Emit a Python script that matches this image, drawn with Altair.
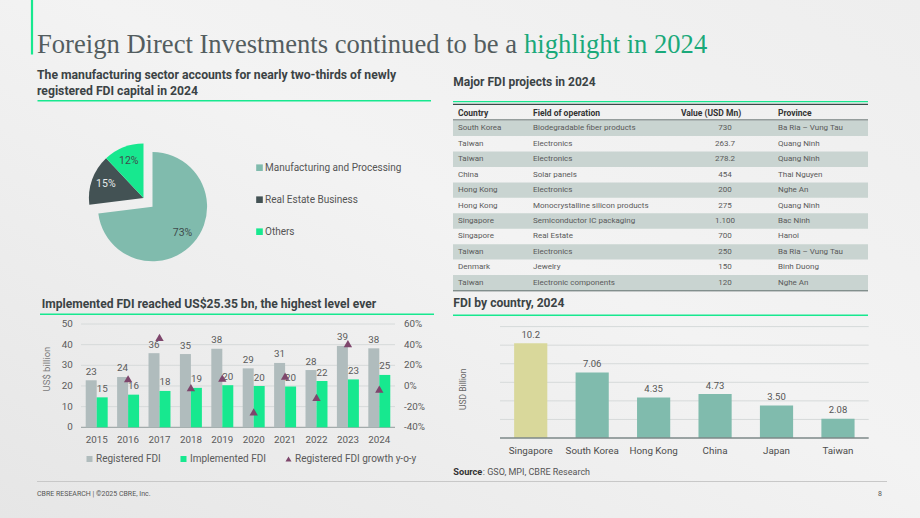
import math
import altair as alt
import pandas as pd

SANS = "Roboto"
SERIF = "Liberation Serif"

# ---------------- data ----------------
pie_sectors = ["Manufacturing and Processing", "Real Estate Business", "Others"]
pie_shares = [73, 15, 12]

tbl_country = ["South Korea", "Taiwan", "Taiwan", "China", "Hong Kong", "Hong Kong",
               "Singapore", "Singapore", "Taiwan", "Denmark", "Taiwan"]
tbl_field = ["Biodegradable fiber products", "Electronics", "Electronics", "Solar panels",
             "Electronics", "Monocrystalline silicon products", "Semiconductor IC packaging",
             "Real Estate", "Electronics", "Jewelry", "Electronic components"]
tbl_value = ["730", "263.7", "278.2", "454", "200", "275", "1.100", "700", "250", "150", "120"]
tbl_province = ["Ba Ria – Vung Tau", "Quang Ninh", "Quang Ninh", "Thai Nguyen", "Nghe An",
                "Quang Ninh", "Bac Ninh", "Hanoi", "Ba Ria – Vung Tau", "Binh Duong", "Nghe An"]

years = ["2015", "2016", "2017", "2018", "2019", "2020", "2021", "2022", "2023", "2024"]
registered = [22.76, 24.37, 35.88, 35.46, 38.02, 28.53, 31.15, 27.72, 39.39, 38.23]
implemented = [14.5, 15.8, 17.6, 19.1, 20.38, 19.98, 19.74, 22.4, 23.18, 25.35]
growth = [None, 7, 47, -1.5, 7.5, -25, 9.5, -11, 41, -3]
left_ticks = [0, 10, 20, 30, 40, 50]
right_ticks = [-40, -20, 0, 20, 40, 60]
right_tick_labels = ["-40%", "-20%", "0%", "20%", "40%", "60%"]
series_all = ["Registered FDI", "Implemented FDI", "Registered FDI growth y-o-y"]

countries = ["Singapore", "South Korea", "Hong Kong", "China", "Japan", "Taiwan"]
country_fdi = [10.2, 7.06, 4.35, 4.73, 3.50, 2.08]
country_labels = ["10.2", "7.06", "4.35", "4.73", "3.50", "2.08"]
country_grid = [2, 4, 6, 8, 10, 12]

# ---------------- colours ----------------
CELADON = "#80bbad"
DARK = "#435254"
ACCENT = "#17e88f"
GREYBAR = "#b0bcbd"
PURPLE = "#7e466c"
OLIVE = "#d9d89b"
TITLE_GREY = "#535d5f"
TITLE_GREEN = "#1aa97a"
HEAD = "#3b4345"
TXT = "#555555"
GRID = "#d6dada"
ROWFILL = "#c9d4d1"


def one(t=""):
    return pd.DataFrame({"t": [t]})


def text(s, x, y, size=10, color=TXT, weight="normal", font=SANS, align="left",
         baseline="middle", angle=0):
    kw = dict(x=x, y=y, fontSize=size, color=color, fontWeight=weight, font=font,
              align=align, baseline=baseline)
    if angle:
        kw["angle"] = angle
    return alt.Chart(one(s)).mark_text(**kw).encode(text="t:N")


def hline(x1, x2, y, color, w=1.0):
    return alt.Chart(one()).mark_rule(color=color, strokeWidth=w).encode(
        x=alt.value(x1), x2=alt.value(x2), y=alt.value(y))


def vline(x, y1, y2, color, w=1.0):
    return alt.Chart(one()).mark_rule(color=color, strokeWidth=w).encode(
        x=alt.value(x), y=alt.value(y1), y2=alt.value(y2))


# ---------------- background ----------------
bg = alt.Chart(one()).mark_rect(
    fill=alt.Gradient(
        gradient="linear",
        stops=[alt.GradientStop(color="#e6e6e6", offset=0),
               alt.GradientStop(color="#f3f3f3", offset=0.55),
               alt.GradientStop(color="#eeeeee", offset=1)],
        x1=0, y1=1, x2=1, y2=0)
).encode(x=alt.value(0), x2=alt.value(920), y=alt.value(0), y2=alt.value(518))

# ---------------- headings ----------------
heads = [
    vline(32, 0, 54.5, ACCENT, 2.2),
    text("Foreign Direct Investments continued to be a", 37, 52.7, 26.6, TITLE_GREY,
         font=SERIF, baseline="alphabetic"),
    text("highlight in 2024", 524, 52.7, 26.6, TITLE_GREEN, font=SERIF, baseline="alphabetic"),
    text("The manufacturing sector accounts for nearly two-thirds of newly", 37, 75.3, 12.2,
         HEAD, "bold"),
    text("registered FDI capital in 2024", 37, 90.9, 12.2, HEAD, "bold"),
    hline(37.5, 431, 100.7, ACCENT, 1.5),
    text("Major FDI projects in 2024", 453.3, 82.3, 12, HEAD, "bold"),
    hline(453, 868, 101.7, ACCENT, 1.3),
    hline(453, 868, 104.3, "#3a4a48", 1.2),
    hline(453, 868, 120, "#3a4a48", 1.2),
    text("Country", 458, 113.3, 8.5, "#333333", "bold"),
    text("Field of operation", 533, 113.3, 8.5, "#333333", "bold"),
    text("Value (USD Mn)", 711, 113.3, 8.5, "#333333", "bold", align="center"),
    text("Province", 778, 113.3, 8.5, "#333333", "bold"),
    hline(453, 868, 290.6, "#3a4a48", 1.5),
    text("Implemented FDI reached US$25.35 bn, the highest level ever", 41.7, 304, 12.1,
         HEAD, "bold"),
    hline(40, 434, 314.3, ACCENT, 1.5),
    text("US$ billion", 46.5, 369, 9.5, "#7a7a7a", align="center", angle=270),
    text("FDI by country, 2024", 453.3, 303.3, 12.1, HEAD, "bold"),
    hline(453, 868, 315.3, ACCENT, 1.5),
    text("USD Billion", 462.7, 389.3, 8.5, "#666666", align="center", angle=270),
    text("Source", 453.3, 471.7, 9.2, "#333333", "bold"),
    text(": GSO, MPI, CBRE Research", 482.8, 471.7, 9, "#555555"),
    hline(37, 887, 481.5, "#c8c8c8", 1),
    text("CBRE RESEARCH | ©2025 CBRE, Inc.", 37, 494, 7, "#555555"),
    text("8", 878, 494, 7, "#555555"),
]

# ---------------- pie ----------------
pie_df = pd.DataFrame({"sector": pie_sectors, "share": pie_shares})
pie_df["end"] = pie_df["share"].cumsum()
pie_df["start"] = pie_df["end"] - pie_df["share"]
pie_df["mid"] = (pie_df["start"] + pie_df["end"]) / 2
pie_df["label"] = pie_df["share"].astype(str) + "%"

theta_sc = alt.Scale(domain=[0, 100], range=[0, 2 * math.pi])
pie_color = alt.Color(
    "sector:N",
    scale=alt.Scale(domain=pie_sectors, range=[CELADON, DARK, ACCENT]),
    legend=alt.Legend(orient="none", legendX=254.5, legendY=162.7, title=None,
                      symbolType="square", symbolSize=44, symbolStrokeWidth=0,
                      labelFont=SANS, labelFontSize=10, labelColor=TXT,
                      rowPadding=22, labelOffset=0.5, padding=0))


def pie_part(cond, cx, cy):
    base = alt.Chart(pie_df).transform_filter(cond)
    arc = base.mark_arc(radius=54.6).encode(
        theta=alt.Theta("start:Q", scale=theta_sc, stack=False),
        theta2="end:Q",
        color=pie_color,
        x=alt.value(cx), y=alt.value(cy))
    lab = base.mark_text(radius=40, font=SANS, fontSize=10.5).encode(
        theta=alt.Theta("mid:Q", scale=theta_sc, stack=False),
        text="label:N",
        x=alt.value(cx), y=alt.value(cy),
        color=alt.condition(alt.datum.sector == pie_sectors[1],
                            alt.value("#e6eaea"), alt.value("#3f4b4c")))
    return alt.layer(arc, lab)


pie = alt.layer(
    pie_part(alt.datum.sector == pie_sectors[0], 152.5, 206.7),
    pie_part(alt.datum.sector != pie_sectors[0], 143.5, 198.0),
)

# ---------------- table ----------------
tbl_df = pd.DataFrame({"row": list(range(len(tbl_country))), "country": tbl_country,
                       "field": tbl_field, "value": tbl_value, "province": tbl_province})
row_sc = alt.Scale(domain=list(range(len(tbl_country))), range=[120.6, 290.5],
                   paddingInner=0, paddingOuter=0)
row_y = alt.Y("row:O", scale=row_sc, axis=None)
tb = alt.Chart(tbl_df)
TB = dict(font=SANS, fontSize=8, color="#5a5a5a")
table = alt.layer(
    tb.transform_filter("datum.row % 2 == 0").mark_rect(color=ROWFILL).encode(
        y=row_y, x=alt.value(453), x2=alt.value(868)),
    tb.mark_text(x=458, align="left", **TB).encode(y=row_y, text="country:N"),
    tb.mark_text(x=533, align="left", **TB).encode(y=row_y, text="field:N"),
    tb.mark_text(x=725, align="center", **TB).encode(y=row_y, text="value:N"),
    tb.mark_text(x=778, align="left", **TB).encode(y=row_y, text="province:N"),
)

# ---------------- combo chart ----------------
combo_long = pd.DataFrame({
    "year": years * 2,
    "series": [series_all[0]] * len(years) + [series_all[1]] * len(years),
    "value": registered + implemented,
})
growth_df = pd.DataFrame({"year": years, "growth": growth,
                          "series": [series_all[2]] * len(years)}).dropna()

x_c = alt.Scale(domain=years, range=[81, 395], paddingInner=0.3, paddingOuter=0.15)
xo_c = alt.Scale(domain=series_all[:2], paddingInner=0, paddingOuter=0)
yL = alt.Scale(domain=[0, 50], range=[427.3, 324], nice=False)
yR = alt.Scale(domain=[-40, 60], range=[427.3, 324], nice=False)
leg = dict(orient="none", legendX=84.5, legendY=454, direction="horizontal", title=None,
           symbolSize=36, symbolStrokeWidth=0, labelFont=SANS, labelFontSize=10,
           labelColor="#5a5a5a", columnPadding=17, labelOffset=1.5, padding=0)
c_color = alt.Color("series:N",
                    scale=alt.Scale(domain=series_all, range=[GREYBAR, ACCENT, PURPLE]),
                    legend=alt.Legend(**leg))
c_shape = alt.Shape("series:N",
                    scale=alt.Scale(domain=series_all, range=["square", "square", "triangle-up"]),
                    legend=alt.Legend(**leg))
cx = alt.X("year:N", scale=x_c, axis=None)

tick_l = pd.DataFrame({"tick": left_ticks})
tick_r = pd.DataFrame({"tick": right_ticks, "lab": right_tick_labels})
LB = dict(font=SANS, fontSize=9.8, color="#5a5a5a")

combo_A = alt.layer(
    alt.Chart(tick_l).transform_filter("datum.tick > 0").mark_rule(
        color=GRID, strokeWidth=1).encode(
        y=alt.Y("tick:Q", scale=yL, axis=None), x=alt.value(81), x2=alt.value(395)),
    alt.Chart(tick_l).transform_filter("datum.tick == 0").mark_rule(
        color="#a3abab", strokeWidth=1.2).encode(
        y=alt.Y("tick:Q", scale=yL, axis=None), x=alt.value(81), x2=alt.value(395)),
    alt.Chart(combo_long).mark_bar().encode(
        x=cx, xOffset=alt.XOffset("series:N", scale=xo_c),
        y=alt.Y("value:Q", scale=yL, axis=None), color=c_color),
    alt.Chart(combo_long).mark_text(baseline="alphabetic", dy=-5.5, **LB).encode(
        x=cx, xOffset=alt.XOffset("series:N", scale=xo_c),
        y=alt.Y("value:Q", scale=yL, axis=None),
        text=alt.Text("value:Q", format=".0f")),
    alt.Chart(tick_l).mark_text(align="right", x=72.7, **LB).encode(
        y=alt.Y("tick:Q", scale=yL, axis=None), text="tick:Q"),
    alt.Chart(pd.DataFrame({"year": years})).mark_text(y=439.5, **LB).encode(
        x=cx, text="year:N"),
)
combo_B = alt.layer(
    alt.Chart(growth_df).mark_point(filled=True, size=70, opacity=1).encode(
        x=cx, y=alt.Y("growth:Q", scale=yR, axis=None), color=c_color, shape=c_shape),
    alt.Chart(tick_r).mark_text(align="left", x=404, **LB).encode(
        y=alt.Y("tick:Q", scale=yR, axis=None), text="lab:N"),
)
combo = alt.layer(combo_A, combo_B).resolve_scale(y="independent")

# ---------------- country chart ----------------
cdf = pd.DataFrame({"country": countries, "fdi": country_fdi, "label": country_labels})
x_k = alt.Scale(domain=countries, range=[500, 868.7], paddingInner=0.46, paddingOuter=0.23)
y_k = alt.Scale(domain=[0, 12], range=[438, 326.6], nice=False)
kx = alt.X("country:N", scale=x_k, axis=None)
country = alt.layer(
    alt.Chart(pd.DataFrame({"tick": country_grid})).mark_rule(color=GRID, strokeWidth=1).encode(
        y=alt.Y("tick:Q", scale=y_k, axis=None), x=alt.value(500), x2=alt.value(868.7)),
    alt.Chart(cdf).mark_bar().encode(
        x=kx, y=alt.Y("fdi:Q", scale=y_k, axis=None),
        color=alt.condition(alt.datum.country == countries[0], alt.value(OLIVE),
                            alt.value(CELADON))),
    alt.Chart(pd.DataFrame({"tick": [0]})).mark_rule(color="#7d8888", strokeWidth=1.3).encode(
        y=alt.Y("tick:Q", scale=y_k, axis=None), x=alt.value(500), x2=alt.value(868.7)),
    alt.Chart(cdf).mark_text(baseline="alphabetic", dy=-5.5, font=SANS, fontSize=9.5,
                             color="#555555").encode(
        x=kx, y=alt.Y("fdi:Q", scale=y_k, axis=None), text="label:N"),
    alt.Chart(cdf).mark_text(y=451, font=SANS, fontSize=9.8, color="#4d4d4d").encode(
        x=kx, text="country:N"),
)

chart = alt.layer(bg, *heads, pie, table, combo, country).resolve_scale(
    x="independent", y="independent", color="independent", shape="independent",
    theta="independent", xOffset="independent"
).properties(
    width=920, height=518, padding=0, background="#eeeeee",
    autosize=alt.AutoSizeParams(type="none"),
).configure_view(strokeWidth=0).configure(font=SANS)

chart.save("out.html", embed_options={"renderer": "svg", "actions": False})
